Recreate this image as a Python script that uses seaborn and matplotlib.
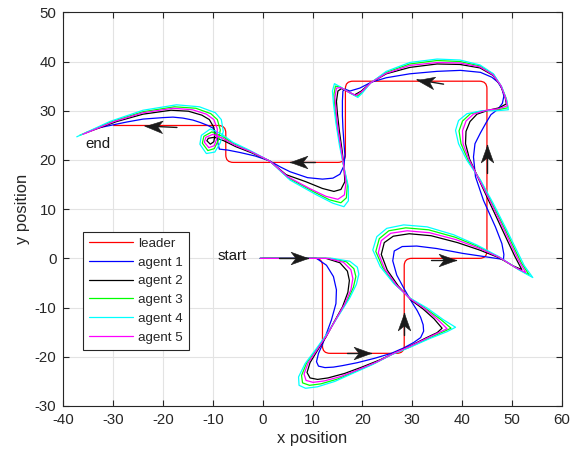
import numpy as np
import matplotlib
matplotlib.use("Agg")
import matplotlib.pyplot as plt
import seaborn as sns
from matplotlib.path import Path
from matplotlib.patches import PathPatch
from matplotlib.markers import MarkerStyle
from matplotlib.transforms import Affine2D
from matplotlib.lines import Line2D

# leader waypoints (corners)
leader_x = [0, 12, 12, 28.4, 28.4, 45, 45, 16.6, 16.6, -7.4, -7.4, -30]
leader_y = [0, 0, -19.3, -19.3, 0, 0, 36, 36, 19.5, 19.5, 27, 27]

# agent 1 (blue)
a1_x = [-0.5, 8, 10.8, 12.8, 14.2, 14.8, 14.7, 13.8, 12.9, 12,
        11.2, 10.8, 11.2, 12.5, 14.2, 16, 19, 22.5, 25.8, 28.3,
        30.3, 31.7, 32.3, 32.2, 31.7, 31, 30, 28.5, 26.9, 26.1,
        26.4, 28, 30.9, 34.9, 40.2, 44.2, 47.5, 48.3, 48.4, 48,
        46.7, 44.3, 42.7, 42.3, 42.6, 43.7, 44.8, 45.8, 47.2, 48.1,
        48.4, 48, 47.2, 46, 43.7, 39.7, 35, 29.5, 24.8, 21.8,
        19.5, 17.5, 16.5, 16.1, 16.0, 16.0, 16.1, 16.3, 16.5, 16.3,
        15.5, 14.1, 12, 9, 5.5, 3.5, 1.4, -1.5, -4.5, -7,
        -8.7, -9, -9.2, -9.5, -10, -11, -12.5, -14, -16, -18,
        -20, -24, -27.3, -33]
a1_y = [0, 0, 0, -1.4, -3.7, -6.4, -9.2, -12.5, -15, -17.5,
        -19.3, -21, -21.9, -22.2, -22.1, -21.8, -21.2, -20.3, -19.3, -18.2,
        -17.1, -16.1, -14.8, -13.5, -12, -10.6, -9.0, -6.4, -3.4, -0.5,
        1.5, 2.4, 2.5, 2.0, 1.0, 0.4, -0.1, -0.3, 0.8, 3.0,
        6.4, 11.8, 16.6, 20.6, 23.3, 25.5, 27.5, 29.2, 30.3, 31.5,
        33, 34.5, 35.8, 36.8, 37.8, 38.2, 38, 37.5, 36.7, 35.8,
        34.6, 34.0, 34.4, 34.0, 32, 29, 26.5, 23.5, 21, 18.8,
        17.1, 16.3, 16.1, 16.4, 17.6, 18.6, 19.8, 20.8, 21.5, 22,
        22.2, 23.5, 24.8, 25.8, 26.5, 27, 27.6, 28.1, 28.5, 28.7,
        28.6, 28.3, 27.7, 26.5]

# agent 2 (black)
a2_x = [-0.5, 8, 12.7, 15.5, 17.0, 17.4, 17.1, 16.0, 14.4, 12.7,
        11.0, 9.5, 8.9, 9.5, 11.0, 13.1, 16.4, 19.9, 23.6, 26.9,
        29.8, 32.7, 35.0, 36.0, 34.4, 32.2, 29.8, 27.2, 25.0, 23.8,
        24.4, 26.2, 29.4, 33.8, 39.1, 43.5, 47.5, 50.2, 52.0, 50.6,
        48.0, 45.5, 43.3, 41.5, 40.7, 40.8, 41.6, 43.0, 45.3, 47.5,
        48.9, 48.6, 47.7, 46.2, 43.6, 39.6, 35, 29.5, 24.8, 21.7,
        19.8, 18.4, 17.1, 15.8, 15.1, 14.8, 15.0, 15.4, 15.9, 16.3,
        16.5, 15.7, 14.3, 12.0, 8.6, 4.7, 1.4, -2.1, -5.4, -7.8,
        -9.7, -10.9, -11.2, -10.5, -9.8, -9.6, -9.8, -10.7, -12.2, -14.9,
        -18.4, -24, -29.3, -35.5]
a2_y = [0, 0, 0, -0.9, -2.6, -4.5, -6.9, -9.9, -12.8, -16.0,
        -18.7, -21.2, -23.2, -24.3, -24.6, -24.3, -23.4, -22.1, -20.6, -19.0,
        -17.7, -16.2, -15.1, -14.2, -12.3, -10.3, -8.5, -5.6, -2.4, 0.8,
        3.2, 4.5, 5.0, 4.6, 3.2, 1.7, 0.1, -1.5, -2.3, 0.4,
        6.0, 11.4, 16.2, 20.2, 23.3, 25.8, 27.8, 29.3, 30.1, 30.6,
        31.4, 33.0, 35.2, 37.2, 38.7, 39.4, 39.5, 38.8, 37.5, 35.7,
        34.0, 33.2, 33.9, 34.5, 34.0, 31.9, 29.4, 25.8, 22.2, 18.6,
        15.6, 14.0, 13.6, 14.2, 15.6, 17.0, 19.8, 21.4, 22.7, 23.9,
        24.6, 24.4, 23.9, 23.2, 23.7, 25.0, 26.6, 28.2, 29.1, 29.9,
        30.1, 29.3, 27.8, 25.5]

# agent 3 (green)
a3_x = [-0.5, 8, 13.6, 16.8, 18.3, 18.7, 18.2, 17.0, 15.1, 13.0,
        10.9, 8.8, 7.8, 8.0, 9.4, 11.7, 15.1, 18.6, 22.5, 26.2,
        29.6, 33.2, 36.3, 37.8, 35.7, 32.7, 29.7, 26.6, 24.1, 22.7,
        23.4, 25.3, 28.7, 33.3, 38.6, 43.2, 47.5, 51.1, 53.5, 51.9,
        48.7, 46.0, 43.6, 41.2, 39.8, 39.4, 40.1, 41.7, 44.4, 47.2,
        49.2, 48.9, 47.9, 46.3, 43.6, 39.6, 35, 29.5, 24.8, 21.7,
        19.9, 18.9, 17.4, 15.6, 14.6, 14.3, 14.5, 14.9, 15.6, 16.3,
        17.0, 16.8, 15.7, 13.4, 10.1, 5.2, 1.4, -2.4, -5.8, -8.1,
        -10.2, -11.8, -12.1, -11.0, -9.7, -8.9, -8.5, -9.1, -10.4, -13.4,
        -17.7, -24, -30.2, -36.7]
a3_y = [0, 0, 0, -0.7, -2.1, -3.7, -5.9, -8.6, -11.7, -15.3,
        -18.4, -21.3, -23.8, -25.3, -25.8, -25.5, -24.5, -23.0, -21.3, -19.4,
        -18.0, -16.3, -14.9, -14.2, -12.4, -10.2, -8.2, -5.3, -1.9, 1.4,
        4.0, 5.6, 6.2, 5.8, 4.3, 2.4, 0.2, -2.1, -3.4, -0.9,
        5.8, 11.2, 16.0, 20.0, 23.3, 25.9, 27.9, 29.4, 30.0, 30.2,
        30.6, 32.4, 34.9, 37.4, 39.1, 40.0, 40.2, 39.5, 37.8, 35.7,
        33.7, 32.9, 33.7, 34.8, 35.0, 33.3, 30.8, 26.9, 22.7, 18.5,
        15.0, 12.3, 11.3, 11.9, 13.6, 16.3, 19.8, 21.7, 23.3, 24.8,
        25.7, 24.8, 23.4, 21.9, 22.3, 24.0, 26.1, 28.2, 29.4, 30.5,
        30.8, 29.8, 27.8, 25.0]

# agent 4 (cyan)
a4_x = [-0.5, 8, 14, 17.5, 19, 19.3, 18.8, 17.5, 15.5, 13.2,
        10.8, 8.5, 7.2, 7.3, 8.6, 11, 14.5, 18, 22, 25.8,
        29.5, 33.5, 37, 38.7, 36.3, 33, 29.6, 26.3, 23.6, 22.1,
        22.9, 24.9, 28.3, 33, 38.3, 43, 47.5, 51.5, 54.2, 52.5,
        49, 46.3, 43.7, 41, 39.3, 38.7, 39.3, 41, 44, 47,
        49.3, 49, 48, 46.3, 43.6, 39.6, 35, 29.5, 24.8, 21.6,
        20, 19.1, 17.5, 15.5, 14.4, 14.0, 14.2, 14.7, 15.4, 16.3,
        17.2, 17.2, 16.3, 14.1, 10.8, 5.5, 1.4, -2.5, -6, -8.3,
        -10.5, -12.3, -12.6, -11.3, -9.6, -8.5, -7.9, -8.3, -9.5, -12.7,
        -17.3, -24, -30.7, -37.3]
a4_y = [0, 0, 0, -0.6, -1.8, -3.2, -5.3, -8, -11.2, -14.9,
        -18.3, -21.4, -24.1, -25.8, -26.4, -26.1, -25, -23.4, -21.6, -19.6,
        -18.1, -16.3, -14.9, -14.0, -12.5, -10.1, -8.1, -5.1, -1.7, 1.7,
        4.4, 6.1, 6.8, 6.4, 4.8, 2.7, 0.3, -2.4, -3.9, -1.5,
        5.7, 11.1, 15.9, 19.9, 23.3, 26.0, 28.0, 29.4, 30.0, 30.0,
        30.2, 32, 34.8, 37.5, 39.3, 40.3, 40.5, 39.8, 38, 35.6,
        33.6, 32.7, 33.6, 34.9, 35.5, 34.0, 31.5, 27.5, 23, 18.5,
        14.6, 11.7, 10.5, 11.2, 12.9, 15.9, 19.8, 21.9, 23.6, 25.3,
        26.3, 25, 23.2, 21.3, 21.6, 23.5, 25.8, 28.2, 29.6, 30.8,
        31.2, 30.1, 27.8, 24.7]

# agent 5 (magenta)
a5_x = [-0.5, 8, 13.1, 16.2, 17.7, 18.1, 17.7, 16.5, 14.8, 12.9,
        10.9, 9.1, 8.3, 8.7, 10.1, 12.4, 15.7, 19.2, 23.0, 26.5,
        29.7, 33.0, 35.7, 37.0, 35.1, 32.5, 29.7, 26.9, 24.5, 23.2,
        23.8, 25.7, 29.0, 33.5, 38.8, 43.3, 47.5, 50.6, 52.8, 51.3,
        48.4, 45.8, 43.4, 41.4, 40.2, 40.1, 40.8, 42.3, 44.9, 47.3,
        49.1, 48.7, 47.8, 46.2, 43.6, 39.6, 35, 29.5, 24.8, 21.7,
        19.9, 18.7, 17.2, 15.7, 14.8, 14.5, 14.7, 15.1, 15.7, 16.3,
        16.7, 16.4, 15.1, 12.7, 9.4, 5.0, 1.4, -2.2, -5.6, -8.0,
        -10.0, -11.4, -11.7, -10.8, -9.7, -9.2, -9.1, -9.8, -11.3, -14.1,
        -18.0, -24, -29.8, -36.1]
a5_y = [0, 0, 0, -0.8, -2.3, -4.1, -6.4, -9.2, -12.2, -15.6,
        -18.6, -21.3, -23.5, -24.8, -25.2, -24.9, -24.0, -22.6, -21.0, -19.2,
        -17.8, -16.2, -14.9, -14.3, -12.4, -10.2, -8.3, -5.5, -2.2, 1.1,
        3.6, 5.1, 5.6, 5.2, 3.8, 2.1, 0.2, -1.8, -2.9, -0.3,
        5.9, 11.3, 16.1, 20.1, 23.3, 25.9, 27.9, 29.3, 30.1, 30.4,
        31.0, 32.7, 35.1, 37.3, 38.9, 39.7, 39.8, 39.2, 37.6, 35.7,
        33.9, 33.1, 33.8, 34.7, 34.6, 32.7, 30.2, 26.4, 22.5, 18.6,
        15.3, 12.9, 12.0, 12.6, 14.2, 16.6, 19.8, 21.6, 23.0, 24.4,
        25.2, 24.6, 23.6, 22.5, 22.9, 24.4, 26.3, 28.2, 29.3, 30.2,
        30.5, 29.6, 27.8, 25.2]

# direction arrows along the leader path
arrow_tail_x = [3.2, 17.0, 28.4, 33.8, 45.0, 36.3, 10.5, -17.2]
arrow_tail_y = [0.0, -19.3, -15.5, -0.4, 17.3, 35.4, 19.5, 26.6]
arrow_tip_x = [9.0, 21.7, 28.4, 38.8, 45.0, 31.0, 5.5, -23.6]
arrow_tip_y = [0.0, -19.3, -11.2, -0.4, 23.0, 36.3, 19.5, 26.9]

names = ['agent 1', 'agent 2', 'agent 3', 'agent 4', 'agent 5']
colors = ['#0000ff', '#000000', '#00ff00', '#00ffff', '#ff00ff']
agents = [(a1_x, a1_y), (a2_x, a2_y), (a3_x, a3_y), (a4_x, a4_y), (a5_x, a5_y)]

sns.set_theme(style="ticks")
plt.rcParams['font.family'] = ['Liberation Sans', 'DejaVu Sans']
plt.rcParams['axes.unicode_minus'] = False
dark = '#262626'

fig = plt.figure(figsize=(5.71, 4.59), dpi=100)
ax = fig.add_axes([0.1109, 0.1155, 0.8728, 0.8577])

# leader path with rounded corners
r = 1.5
verts = [(leader_x[0], leader_y[0])]
codes = [Path.MOVETO]
for i in range(1, len(leader_x) - 1):
    p0 = np.array([leader_x[i-1], leader_y[i-1]])
    p1 = np.array([leader_x[i], leader_y[i]])
    p2 = np.array([leader_x[i+1], leader_y[i+1]])
    d0 = (p1 - p0) / np.linalg.norm(p1 - p0)
    d1 = (p2 - p1) / np.linalg.norm(p2 - p1)
    verts += [tuple(p1 - d0 * r), tuple(p1), tuple(p1 + d1 * r)]
    codes += [Path.LINETO, Path.CURVE3, Path.CURVE3]
verts.append((leader_x[-1], leader_y[-1]))
codes.append(Path.LINETO)
ax.add_patch(PathPatch(Path(verts, codes), facecolor='none', edgecolor='#ff0000', lw=0.9, zorder=2))

for (xs, ys), c in zip(agents, colors):
    sns.lineplot(x=xs, y=ys, sort=False, estimator=None, color=c, lw=0.9, ax=ax,
                 legend=False, zorder=3, solid_joinstyle='round')

# arrows
head = Path([(0, 0), (-1, 0.36), (-0.72, 0), (-1, -0.36), (0, 0)],
            [Path.MOVETO, Path.LINETO, Path.LINETO, Path.LINETO, Path.CLOSEPOLY])
for x0, y0, x1, y1 in zip(arrow_tail_x, arrow_tail_y, arrow_tip_x, arrow_tip_y):
    ax.plot([x0, x1], [y0, y1], color='k', lw=1.0, zorder=5)
    ang = np.degrees(np.arctan2(y1 - y0, x1 - x0))
    m = MarkerStyle(head, transform=Affine2D().rotate_deg(ang))
    ax.plot(x1, y1, marker=m, ms=25, color='k', mec='k', mew=0.4, ls='none', zorder=6)

ax.text(-9.0, 0.5, 'start', ha='left', va='center', fontsize=10.8, color='k')
ax.text(-35.6, 23.3, 'end', ha='left', va='center', fontsize=10.8, color='k')

ax.set_xlim(-40, 60)
ax.set_ylim(-30, 50)
ax.set_xticks(np.arange(-40, 61, 10))
ax.set_yticks(np.arange(-30, 51, 10))
ax.grid(True, color='#e3e3e3', lw=0.8)
ax.set_axisbelow(True)
ax.tick_params(direction='in', top=True, right=True, length=4, width=0.8,
               colors=dark, labelsize=10.8, pad=5)
for s in ax.spines.values():
    s.set_color(dark)
    s.set_linewidth(0.8)
ax.set_xlabel('x position', fontsize=11.9, color=dark, labelpad=3)
ax.set_ylabel('y position', fontsize=11.9, color=dark, labelpad=3)

handles = [Line2D([], [], color='#ff0000', lw=0.9)] + [Line2D([], [], color=c, lw=0.9) for c in colors]
leg = ax.legend(handles, ['leader'] + names, loc='upper left', bbox_to_anchor=(0.04, 0.443),
                borderaxespad=0, fontsize=9.6, handlelength=3.3, handletextpad=0.38,
                labelspacing=0.48, borderpad=0.45, fancybox=False, framealpha=1,
                edgecolor=dark)
leg.get_frame().set_linewidth(0.8)

fig.savefig('out.png', dpi=100)
